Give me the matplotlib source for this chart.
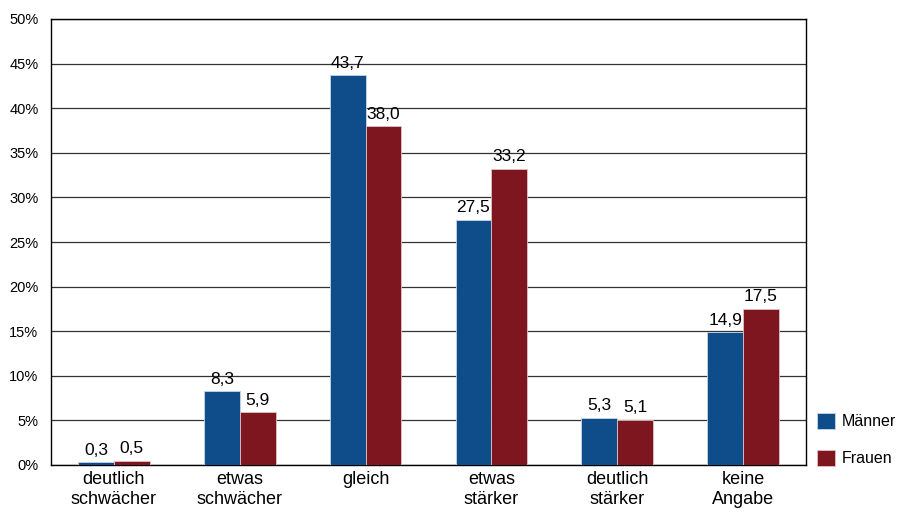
import matplotlib.pyplot as plt
import numpy as np

plt.rcParams['font.family'] = ['Liberation Sans', 'DejaVu Sans']

categories = ["deutlich\nschwächer", "etwas\nschwächer", "gleich",
              "etwas\nstärker", "deutlich\nstärker", "keine\nAngabe"]
maenner = [0.3, 8.3, 43.7, 27.5, 5.3, 14.9]
frauen = [0.5, 5.9, 38.0, 33.2, 5.1, 17.5]
yticks = [0, 5, 10, 15, 20, 25, 30, 35, 40, 45, 50]

blue = "#0f4c8a"
red = "#7e1620"


def fmt(v):
    return f"{v:.1f}".replace(".", ",")


fig = plt.figure(figsize=(9, 5.14), dpi=100)
ax = fig.add_axes([51 / 900, 1 - 465 / 514, 755 / 900, 446 / 514])

x = np.arange(len(categories)) + 0.5
w = 0.285
b1 = ax.bar(x - w / 2, maenner, w, color=blue, edgecolor="#c8d4e4", linewidth=0.6,
            label="Männer", zorder=3)
b2 = ax.bar(x + w / 2, frauen, w, color=red, edgecolor="#e0c0c4", linewidth=0.6,
            label="Frauen", zorder=3)

for bars, vals in ((b1, maenner), (b2, frauen)):
    for r, v in zip(bars, vals):
        ax.text(r.get_x() + r.get_width() / 2, v + 0.5, fmt(v), ha="center",
                va="bottom", fontsize=12.5, zorder=4)

ax.set_xlim(0, 6)
ax.set_ylim(0, 50)
ax.set_yticks(yticks)
ax.set_yticklabels([f"{t}%" for t in yticks], fontsize=10.5)
ax.set_xticks(x)
ax.set_xticklabels(categories, fontsize=13, linespacing=1.3)
ax.tick_params(axis="y", length=0, pad=9)
ax.tick_params(axis="x", length=0, pad=4)
ax.yaxis.grid(True, color="#333333", linewidth=0.9, zorder=0)
ax.set_axisbelow(True)
for s in ax.spines.values():
    s.set_color("black")
    s.set_linewidth(1.0)

ax.legend(loc="lower left", bbox_to_anchor=(0.995, -0.035), frameon=False,
          fontsize=11.5, handlelength=1.15, handleheight=1.15, labelspacing=1.3,
          handletextpad=0.45)

fig.savefig("out.png", dpi=100)
